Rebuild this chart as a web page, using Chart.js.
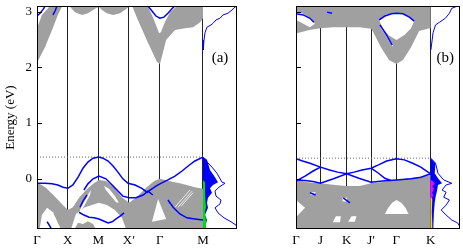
<!DOCTYPE html>
<html>
<head>
<meta charset="UTF-8">
<title>Band structure</title>
<script src="https://cdn.jsdelivr.net/npm/chart.js"></script>
<style>
body{margin:0;background:#fff;}
#wrap{position:relative;width:463px;height:249px;}
canvas{position:absolute;top:0;}
#panelA{left:0;}
#panelB{left:240px;}
</style>
</head>
<body>
<div id="wrap">
    <canvas id="panelA" width="240" height="249"></canvas>
    <canvas id="panelB" width="223" height="249"></canvas>
</div>
<script>
// k-path ticks and labels
const kTicksA=[0,1,2,3,4,5.414];
const kLabelsA=["Γ","X","M","X′","Γ","M"];
const kTicksB=[0,1,2.07,3.07,4.1,5.5];
const kLabelsB=["Γ","J","K","J′","Γ","K"];
const energyTicks=[0,1,2,3];
const fermiA=0.39, fermiB=0.37;

// ---- panel (a): projected bulk bands [k, E] ----
const condA1=[[0,2.70],[0.16,2.94],[0.36,3.06],[0.52,3.2],[0.91,3.2],[0.68,2.94],[0.49,2.67],[0.26,2.36],[0,2.08]];
const condA2=[[1.01,3.2],[1.08,3.08],[1.24,2.99],[1.47,2.94],[1.66,2.97],[1.92,3.06],[2.02,3.08],[2.12,3.03],[2.28,2.97],[2.48,2.94],[2.71,2.97],[2.94,3.06],[3.10,3.12],[3.10,3.2]];
const condA3=[[3.03,3.2],[3.29,2.85],[3.62,2.44],[3.91,2.10],[4.01,2.06],[4.11,2.27],[4.21,2.49],[4.50,2.67],[4.83,2.70],[5.09,2.72],[5.32,2.81],[5.414,2.88],[5.414,3.2]];
const gapA3=[[3.62,3.2],[3.62,3.08],[3.75,2.94],[3.91,2.72],[3.98,2.61],[4.04,2.63],[4.17,2.81],[4.34,2.99],[4.53,3.08],[4.53,3.2]];
const valA=[[0,-0.06],[0.29,-0.16],[0.62,-0.34],[0.88,-0.49],[1.01,-0.56],[1.17,-0.51],[1.37,-0.34],[1.60,-0.20],[1.83,-0.09],[2.02,-0.02],[2.25,-0.04],[2.51,-0.15],[2.77,-0.33],[3.00,-0.43],[3.23,-0.34],[3.56,-0.16],[3.82,-0.04],[4.01,0.00],[4.31,-0.04],[4.73,-0.09],[5.15,-0.15],[5.414,-0.18],[5.414,-1.0],[0,-1.0]];
const gapA1=[[0.07,-0.95],[0.16,-0.65],[0.33,-0.52],[0.52,-0.60],[0.82,-0.95]];
const gapA2=[[1.08,-0.95],[1.27,-0.63],[1.53,-0.52],[1.79,-0.47],[2.02,-0.43],[2.28,-0.47],[2.54,-0.56],[2.77,-0.70],[2.94,-0.95]];
const lensA1=[[1.40,-0.56],[1.53,-0.42],[1.70,-0.25],[1.76,-0.20],[1.73,-0.29],[1.57,-0.45],[1.44,-0.58]];
const lensA2=[[2.19,-0.13],[2.35,-0.18],[2.54,-0.31],[2.67,-0.43],[2.58,-0.42],[2.38,-0.29],[2.22,-0.18]];
const gapA4=[[3.75,-0.77],[3.95,-0.36],[4.21,-0.72]];
const ridgeA=[[1.17,-0.95],[1.34,-0.79],[1.50,-0.81],[1.66,-0.76],[1.83,-0.81],[1.96,-0.95]];
const streakA1=[[4.50,-0.51],[4.99,-0.20]];
const streakA2=[[4.60,-0.51],[5.06,-0.22]];
const streakA3=[[4.70,-0.49],[5.09,-0.25]];

// panel (a): surface bands
const bandA1=[[0,-0.08],[0.26,-0.08],[0.49,-0.09],[0.68,-0.11],[0.85,-0.15],[1.01,-0.17],[1.17,-0.11],[1.34,0.03],[1.50,0.19],[1.66,0.30],[1.83,0.37],[2.02,0.39],[2.15,0.37],[2.32,0.32],[2.48,0.23],[2.64,0.12],[2.80,0.00],[2.97,-0.08],[3.20,-0.11],[3.42,-0.17],[3.59,-0.24],[3.75,-0.18],[3.88,-0.13],[4.01,-0.09],[4.27,-0.02],[4.50,0.05],[4.73,0.14],[4.93,0.23],[5.15,0.32],[5.414,0.39]];
const bandA2=[[1.53,-0.20],[1.66,-0.09],[1.83,0.00],[2.02,0.05],[2.25,0.00],[2.45,-0.11],[2.64,-0.22],[2.80,-0.31],[3.00,-0.34],[3.23,-0.34],[3.46,-0.29],[3.62,-0.22],[3.78,-0.29]];
const bandA3=[[1.37,-0.60],[1.53,-0.65],[1.70,-0.69],[1.86,-0.70],[2.02,-0.72],[2.19,-0.76],[2.32,-0.79],[2.45,-0.77],[2.58,-0.72],[2.71,-0.67],[2.84,-0.61]];
const bandA4=[[4.27,-0.38],[4.44,-0.51],[4.66,-0.63],[4.89,-0.70],[5.15,-0.72],[5.414,-0.74]];
const bandA5=[[1.40,-0.51],[1.50,-0.40],[1.63,-0.29]];
const bandA6=[[0.33,-0.77],[0.42,-0.85],[0.49,-0.92]];
const bandA7=[[0,2.92],[0.10,2.97],[0.20,3.04],[0.29,3.12]];
const bandA8=[[0.52,2.94],[0.59,3.01],[0.65,3.10]];
const bandA9=[[3.62,3.10],[3.75,3.01],[3.88,2.92],[4.01,2.88],[4.14,2.90],[4.27,2.97],[4.40,3.05],[4.53,3.12]];

// panel (a): DOS [dos, E]
const dosCondA=[[36,3.15],[35,3.12],[32,3.08],[29,3.03],[25,2.97],[20,2.94],[17,2.88],[13,2.85],[10,2.79],[8,2.76],[4,2.72],[2,2.62],[1,2.49],[0.3,2.31]];
const dosValA=[[0.3,0.39],[2,0.34],[9,0.21],[14,0.10],[19,-0.06],[22,-0.08],[16,-0.15],[12,-0.22],[13,-0.31],[18,-0.38],[17,-0.45],[12,-0.52],[15,-0.61],[21,-0.70],[28,-0.77],[33,-0.83],[35,-0.88],[36,-0.95]];
const dosSurfA=[[0,0.39],[4,0.34],[7,0.16],[12,0.03],[15,-0.06],[10,-0.11],[7,-0.17],[9,-0.25],[5,-0.34],[4,-0.43],[5,-0.52],[2,-0.65],[4,-0.74],[2,-0.86],[2,-1.0],[0,-1.0]];
const dosGreenA=[[0,-0.02],[2,-0.06],[2,-0.30],[3,-0.50],[2,-0.60],[3,-0.75],[3,-1.0],[0,-1.0]];

// ---- panel (b) ----
const condB=[[0,3.2],[0,2.61],[0.20,2.63],[0.53,2.67],[1.0,2.70],[1.53,2.72],[2.07,2.72],[2.60,2.72],[3.07,2.69],[3.13,2.65],[3.47,2.36],[3.80,2.13],[4.10,2.06],[4.37,2.13],[4.70,2.36],[5.03,2.65],[5.37,2.69],[5.5,2.70],[5.5,3.2]];
const gapB1=[[3.40,2.85],[3.63,2.94],[3.90,2.97],[4.10,2.97],[4.37,2.96],[4.63,2.90],[4.83,2.83],[4.70,2.70],[4.43,2.58],[4.10,2.49],[3.77,2.58],[3.53,2.70]];
const gapB2=[[0,2.99],[0.30,2.96],[0.60,2.88],[0.77,2.78],[0.57,2.72],[0.30,2.78],[0,2.85]];
const streakB1=[[0.37,2.49],[0.70,2.67]];
const streakB2=[[3.47,2.72],[3.73,2.55],[3.95,2.38]];
const valB=[[0,-0.02],[0.47,-0.06],[1.0,-0.08],[1.6,-0.11],[2.07,-0.13],[2.6,-0.13],[3.07,-0.08],[3.47,-0.06],[4.1,-0.02],[4.6,0.01],[5.03,0.03],[5.5,0.07],[5.5,-1.0],[0,-1.0]];
const gapB3=[[0,-0.38],[0.37,-0.52],[0,-0.69]];
const gapB4=[[3.63,-0.63],[3.77,-0.52],[3.93,-0.43],[4.10,-0.38],[4.30,-0.43],[4.47,-0.52],[4.60,-0.63]];
const gapB5=[[1.50,-0.78],[1.63,-0.67],[1.83,-0.67],[1.80,-0.78]];
const gapB6=[[2.13,-0.77],[2.27,-0.67],[2.47,-0.67],[2.40,-0.77]];
const gapB7=[[0.6,-0.24],[0.8,-0.24],[0.75,-0.29],[0.6,-0.29]];
const gapB8=[[1.9,-0.34],[2.1,-0.34],[2.05,-0.41],[1.9,-0.40]];

const bandB1=[[0,0.36],[0.27,0.32],[0.57,0.28],[1.0,0.21],[1.37,0.16],[1.7,0.12],[2.07,0.09],[2.37,0.12],[2.7,0.16],[3.07,0.19],[3.37,0.25],[3.7,0.32],[4.1,0.36],[4.43,0.34],[4.77,0.28],[5.1,0.21],[5.5,0.09]];
const bandB2=[[0,-0.02],[0.37,-0.03],[0.7,-0.05],[1.0,-0.08],[1.53,0.00],[2.07,0.09],[2.57,0.01],[3.07,-0.06],[3.53,-0.04],[4.1,-0.02],[4.7,0.00],[5.1,0.03],[5.5,0.09]];
const bandB3=[[0,-0.04],[0.37,0.05],[0.7,0.14],[1.0,0.21]];
const bandB4=[[3.07,0.19],[3.37,0.10],[3.63,0.01],[3.87,-0.03]];
const bandB5=[[3.40,2.85],[3.63,2.92],[3.90,2.96],[4.10,2.97],[4.37,2.96],[4.63,2.90],[4.83,2.83]];
const bandB6=[[0,2.96],[0.30,2.94],[0.57,2.88],[0.73,2.81]];
const bandB7=[[3.43,2.76],[3.70,2.58],[3.93,2.40]];
const bandB8=[[1.27,2.99],[1.47,2.97]];
const bandB9=[[0.57,-0.25],[0.8,-0.29]];
const bandB10=[[1.93,-0.34],[2.2,-0.43]];

const dosCondB=[[36,3.15],[30,3.08],[26,3.06],[23,2.97],[18,2.88],[11,2.81],[6,2.76],[3,2.62],[0.3,2.31]];
const dosValB=[[0.3,0.37],[6,0.28],[9,0.10],[16,-0.02],[26,-0.08],[19,-0.11],[14,-0.20],[19,-0.24],[16,-0.33],[23,-0.38],[19,-0.47],[13,-0.56],[19,-0.65],[26,-0.74],[33,-0.79],[36,-0.86]];
const dosSurfB=[[0,0.37],[6,0.28],[5,0.10],[9,0.01],[14,-0.08],[9,-0.11],[8,-0.20],[6,-0.33],[5,-0.43],[4,-0.61],[3,-0.79],[3,-1.0],[0,-1.0]];
const dosMagB=[[0,-0.02],[3,-0.05],[5,-0.09],[2,-0.13],[4,-0.18],[2,-0.25],[3,-0.30],[1,-0.38],[0,-0.40]];
const dosYelB=[[0,-0.33],[2,-0.36],[1.5,-0.60],[2,-0.80],[2,-1.0],[0,-1.0]];

const serif="'Liberation Serif','DejaVu Serif',serif";
const GRAY="#a0a0a0", BLUE="#0000ff", WHITE="#ffffff", LW=1.5;
Chart.defaults.font.family=serif;

function pts(a){return a.map(p=>({x:p[0],y:p[1]}));}
function area(a,color,order,axis){
    return {data:pts(a),xAxisID:axis||"x",fill:"shape",backgroundColor:color,
        borderColor:"rgba(0,0,0,0)",borderWidth:0,pointRadius:0,order:order};
}
function curve(a,color,width,order,axis,dash){
    return {data:pts(a),xAxisID:axis||"x",fill:false,borderColor:color,
        borderWidth:width,pointRadius:0,order:order,borderDash:dash||[]};
}

const framePlugin={
    id:"frame",
    afterDraw(chart,args,opts){
        const {ctx,chartArea:a,scales}=chart;
        ctx.save();
        ctx.strokeStyle="#000";
        ctx.lineWidth=1;
        ctx.strokeRect(a.left+0.5,a.top+0.5,a.width-1,a.height-1);
        for(const v of energyTicks){
            const y=Math.round(scales.y.getPixelForValue(v))+0.5;
            ctx.beginPath();
            ctx.moveTo(a.left,y);
            ctx.lineTo(a.left+5,y);
            ctx.stroke();
        }
        ctx.fillStyle="#000";
        ctx.font="15px "+serif;
        ctx.textAlign="center";
        ctx.textBaseline="middle";
        ctx.fillText(opts.label,scales.xd.getPixelForValue(opts.at[0]),scales.y.getPixelForValue(opts.at[1]));
        ctx.restore();
    }
};

function makePanel(canvas,p){
    const kEnd=p.ticks[p.ticks.length-1];
    const dosMin=-p.dosMax*kEnd/(p.kMax-kEnd);
    new Chart(canvas,{
        type:"line",
        data:{datasets:p.datasets},
        plugins:[framePlugin],
        options:{
            responsive:false,
            animation:false,
            events:[],
            layout:{padding:{left:p.padLeft,right:3,top:6,bottom:0}},
            plugins:{
                legend:{display:false},
                tooltip:{enabled:false},
                frame:{label:p.label,at:p.labelAt}
            },
            scales:{
                x:{type:"linear",min:0,max:p.kMax,z:1,
                    afterBuildTicks:s=>{s.ticks=p.ticks.map(v=>({value:v}));},
                    afterFit:s=>{s.height=20;s.paddingLeft=0;s.paddingRight=0;},
                    grid:{color:"#222",lineWidth:1,drawTicks:false},
                    border:{display:false},
                    ticks:{autoSkip:false,maxRotation:0,padding:4,color:"#000",
                        font:{family:serif,size:13},callback:(v,i)=>p.labels[i]}
                },
                xd:{type:"linear",display:false,min:dosMin,max:p.dosMax},
                y:{type:"linear",min:-0.9,max:3.1,display:p.showY,
                    afterBuildTicks:s=>{s.ticks=energyTicks.map(v=>({value:v}));},
                    afterFit:s=>{s.width=37;s.paddingTop=0;s.paddingBottom=0;},
                    grid:{display:false,drawTicks:false},
                    border:{display:false},
                    ticks:{padding:5,color:"#000",font:{family:serif,size:13}},
                    title:{display:true,text:"Energy (eV)",color:"#000",
                        font:{family:serif,size:13},padding:{top:3,bottom:0}}
                }
            }
        }
    });
}

makePanel(document.getElementById("panelA"),{
    ticks:kTicksA,labels:kLabelsA,kMax:6.523,dosMax:34,padLeft:0,showY:true,
    label:"(a)",labelAt:[17,2.17],
    datasets:[
        curve(dosCondA,BLUE,1,2,"xd"),curve(dosValA,BLUE,1,2,"xd"),
        area(dosGreenA,"#00dd00",3,"xd"),
        area(dosSurfA,BLUE,4,"xd"),
        curve(bandA1,BLUE,LW,5),curve(bandA2,BLUE,LW,5),curve(bandA3,BLUE,LW,5),
        curve(bandA4,BLUE,LW,5),curve(bandA5,BLUE,LW,5),curve(bandA6,BLUE,LW,5),
        curve(bandA7,BLUE,LW,5),curve(bandA8,BLUE,LW,5),curve(bandA9,BLUE,LW,5),
        curve([[0,fermiA],[kTicksA[5],fermiA]],"#666",1,6,"x",[1,2]),
        curve(streakA1,"rgba(255,255,255,0.8)",1,7),curve(streakA2,"rgba(255,255,255,0.8)",1,7),
        curve(streakA3,"rgba(255,255,255,0.8)",1,7),
        area(ridgeA,GRAY,8),
        area(gapA1,WHITE,9),area(gapA2,WHITE,9),area(gapA3,WHITE,9),area(gapA4,WHITE,9),
        area(lensA1,WHITE,9),area(lensA2,WHITE,9),
        area(condA1,GRAY,10),area(condA2,GRAY,10),area(condA3,GRAY,10),area(valA,GRAY,10)
    ]
});

makePanel(document.getElementById("panelB"),{
    ticks:kTicksB,labels:kLabelsB,kMax:6.70,dosMax:36,padLeft:19,showY:false,
    label:"(b)",labelAt:[18,2.17],
    datasets:[
        curve(dosCondB,BLUE,1,2,"xd"),curve(dosValB,BLUE,1,2,"xd"),
        area(dosYelB,"#f0e000",3,"xd"),
        area(dosMagB,"#ff00ff",3,"xd"),
        area(dosSurfB,BLUE,4,"xd"),
        curve(bandB1,BLUE,LW,5),curve(bandB2,BLUE,LW,5),curve(bandB3,BLUE,LW,5),
        curve(bandB4,BLUE,LW,5),curve(bandB5,BLUE,LW,5),curve(bandB6,BLUE,LW,5),
        curve(bandB7,BLUE,LW,5),curve(bandB8,BLUE,LW,5),curve(bandB9,BLUE,LW,5),
        curve(bandB10,BLUE,LW,5),
        curve([[0,fermiB],[kTicksB[5],fermiB]],"#666",1,6,"x",[1,2]),
        curve(streakB1,"rgba(255,255,255,0.9)",1,7),curve(streakB2,"rgba(255,255,255,0.9)",1.5,7),
        area(gapB1,WHITE,9),area(gapB2,WHITE,9),area(gapB3,WHITE,9),area(gapB4,WHITE,9),
        area(gapB5,WHITE,9),area(gapB6,WHITE,9),area(gapB7,WHITE,9),area(gapB8,WHITE,9),
        area(condB,GRAY,10),area(valB,GRAY,10)
    ]
});
</script>
</body>
</html>
